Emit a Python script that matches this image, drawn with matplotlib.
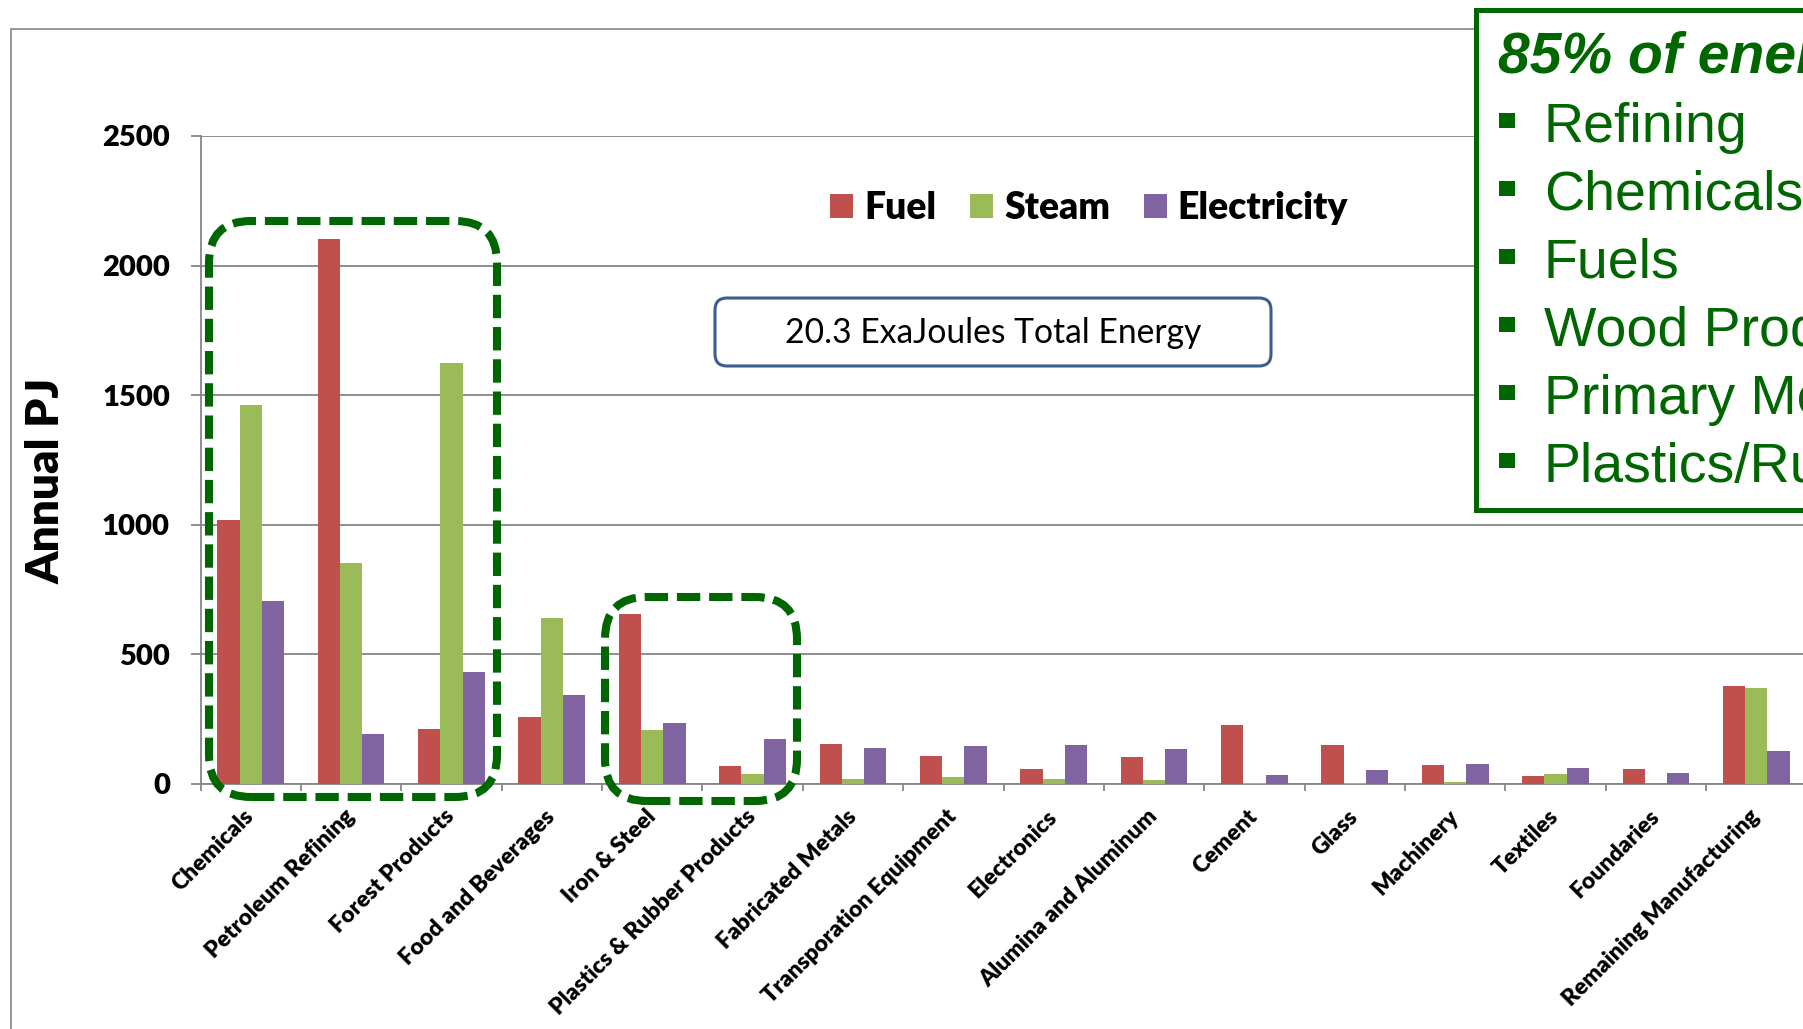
import numpy as np
import matplotlib
matplotlib.use("Agg")
import matplotlib.pyplot as plt
from matplotlib.patches import Rectangle, FancyBboxPatch
from matplotlib.transforms import IdentityTransform

plt.rcParams['font.family'] = ['Lato', 'DejaVu Sans']

categories = ['Chemicals', 'Petroleum Refining', 'Forest Products', 'Food and Beverages',
              'Iron & Steel', 'Plastics & Rubber Products', 'Fabricated Metals',
              'Transporation Equipment', 'Electronics', 'Alumina and Aluminum', 'Cement',
              'Glass', 'Machinery', 'Textiles', 'Foundaries', 'Remaining Manufacturing']
fuel = [1017, 2102, 212, 259, 655, 70, 156, 107, 58, 104, 227, 152, 75, 31, 59, 379]
steam = [1462, 853, 1624, 641, 208, 39, 19, 26, 19, 17, 3, 4, 6, 39, 0, 369]
elec = [707, 193, 434, 345, 235, 173, 139, 147, 152, 134, 36, 54, 77, 62, 41, 129]
series = ['Fuel', 'Steam', 'Electricity']
colors = ['#C0504D', '#9BBB59', '#8064A2']

note = '20.3 ExaJoules Total Energy'
box_title = '85% of energy used in:'
box_items = ['Refining', 'Chemicals', 'Fuels', 'Wood Products', 'Primary Metals', 'Plastics/Rubber']

W, H = 1803, 1029
fig = plt.figure(figsize=(W / 100, H / 100), dpi=100)
grey = '#868686'
green = '#006600'

def px(x, y):
    # pixel coords measured from the top left
    return x, H - y

# outer chart border
fig.add_artist(Rectangle(px(11, 1100), 1900, 1071, fill=False, edgecolor=grey,
                         linewidth=1.2, transform=IdentityTransform()))

ax = fig.add_axes([200.5 / W, (H - 784) / H, 1606 / W, 648 / H])
x = np.arange(len(categories)) + 0.5
w = 0.222
for k, vals in enumerate([fuel, steam, elec]):
    ax.bar(x + (k - 1) * w, vals, w, color=colors[k], label=series[k], zorder=3)

ax.set_xlim(0, 16)
ax.set_ylim(0, 2500)
ax.set_yticks(np.arange(0, 2501, 500))
ax.yaxis.grid(True, color=grey, linewidth=1.3, zorder=0)
for s in ['top', 'right']:
    ax.spines[s].set_visible(False)
for s in ['left', 'bottom']:
    ax.spines[s].set_color(grey)
    ax.spines[s].set_linewidth(1.3)
ax.tick_params(axis='y', length=7, width=1.3, color=grey, pad=15, labelsize=21)
for lab in ax.get_yticklabels():
    lab.set_fontweight('heavy')
ax.set_xticks(x)
ax.set_xticklabels(categories, rotation=45, ha='right', va='center',
                   rotation_mode='anchor', fontsize=16.5, fontweight='heavy')
ax.tick_params(axis='x', which='major', length=0, pad=21)
ax.set_xticks(np.arange(0, 17), minor=True)
ax.tick_params(axis='x', which='minor', length=5, width=1.3, color=grey)

fig.text(46 / W, (H - 481) / H, 'Annual PJ', rotation=90, ha='center', va='center',
         fontsize=33, fontweight='heavy')

fig.legend(loc='center left', bbox_to_anchor=(830 / W, (H - 208) / H), ncol=3,
           frameon=False, handlelength=0.62, handleheight=0.62,
           handletextpad=0.3, columnspacing=0.9, borderpad=0, borderaxespad=0,
           prop={'weight': 'heavy', 'size': 26.8})

# total energy note
x0, y0 = px(715, 366)
fig.add_artist(FancyBboxPatch((x0, y0), 556, 68, boxstyle='round,pad=0,rounding_size=12',
                              facecolor='white', edgecolor='#3B5E8C', linewidth=2.2,
                              transform=IdentityTransform(), zorder=5))
fig.text(993 / W, (H - 333) / H, note, ha='center', va='center', fontsize=24.2, zorder=6)

# highlighted groups
for (l, t, r, b) in [(209, 221, 497, 797), (605, 597, 797, 801)]:
    x0, y0 = px(l, b)
    fig.add_artist(FancyBboxPatch((x0, y0), r - l, b - t,
                                  boxstyle='round,pad=0,rounding_size=42',
                                  fill=False, edgecolor=green, linewidth=5.8,
                                  linestyle=(0, (2.9, 1.1)), capstyle='butt',
                                  transform=IdentityTransform(), zorder=7))

# right-hand callout
x0, y0 = px(1476, 510)
fig.add_artist(Rectangle((x0, y0), 500, 500, facecolor='white', edgecolor=green,
                         linewidth=3.6, transform=IdentityTransform(), zorder=5))
fig.text(1498 / W, (H - 73) / H, box_title, ha='left', va='baseline', fontsize=41,
         fontweight='bold', fontstyle='italic', color=green, family='Liberation Sans',
         zorder=6)
for i, item in enumerate(box_items):
    base = 141.7 + i * 68
    sx, sy = px(1499, base - 13.5)
    fig.add_artist(Rectangle((sx, sy), 16, 15, facecolor=green, edgecolor='none',
                             transform=IdentityTransform(), zorder=6))
    fig.text(1544 / W, (H - base) / H, item, ha='left', va='baseline', fontsize=40,
             color=green, family='Liberation Sans', zorder=6)

fig.savefig('out.png', dpi=100)
